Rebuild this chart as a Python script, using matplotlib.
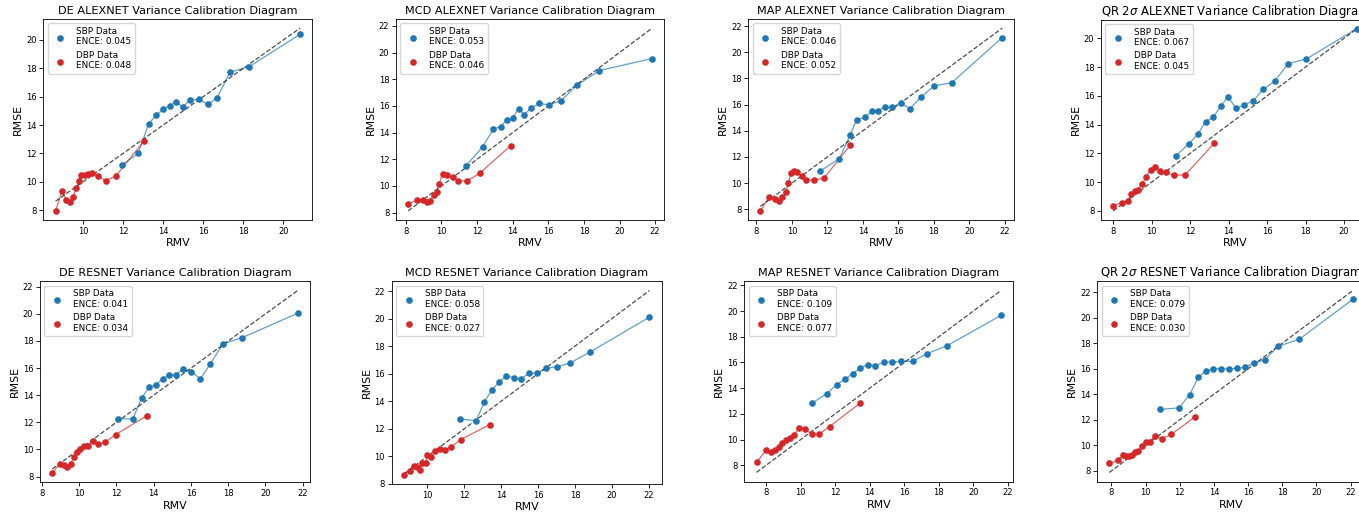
"""
Variance calibration diagrams (RMSE vs RMV) for SBP and DBP,
four uncertainty methods x two backbones.
"""

import matplotlib.pyplot as plt

# ---- DE ALEXNET ----
de_alex_sbp_rmv = [11.95, 12.75, 13.27, 13.63, 14.0, 14.33, 14.63, 14.97, 15.33, 15.77, 16.23, 16.7, 17.33, 18.3, 20.83]
de_alex_sbp_rmse = [11.2, 12.0, 14.07, 14.68, 15.1, 15.34, 15.65, 15.27, 15.74, 15.81, 15.46, 15.93, 17.72, 18.12, 20.4]
de_alex_dbp_rmv = [8.63, 8.95, 9.17, 9.37, 9.5, 9.67, 9.8, 9.92, 10.08, 10.25, 10.47, 10.75, 11.13, 11.63, 13.03]
de_alex_dbp_rmse = [7.95, 9.32, 8.71, 8.54, 8.96, 9.55, 10.09, 10.47, 10.47, 10.54, 10.59, 10.4, 10.07, 10.4, 12.85]

# ---- MCD ALEXNET ----
mcd_alex_sbp_rmv = [11.37, 12.31, 12.91, 13.32, 13.66, 14.0, 14.33, 14.65, 15.05, 15.5, 16.02, 16.71, 17.6, 18.87, 21.83]
mcd_alex_sbp_rmse = [11.5, 12.93, 14.25, 14.45, 14.95, 15.08, 15.8, 15.35, 15.85, 16.18, 16.08, 16.38, 17.55, 18.65, 19.55]
mcd_alex_dbp_rmv = [8.13, 8.64, 8.94, 9.2, 9.35, 9.56, 9.72, 9.87, 10.06, 10.32, 10.62, 10.94, 11.45, 12.14, 13.9]
mcd_alex_dbp_rmse = [8.63, 8.95, 8.95, 8.78, 8.9, 9.33, 9.55, 10.15, 10.93, 10.8, 10.65, 10.38, 10.38, 10.95, 13.03]

# ---- MAP ALEXNET ----
map_alex_sbp_rmv = [11.58, 12.67, 13.28, 13.64, 14.12, 14.5, 14.87, 15.22, 15.65, 16.12, 16.66, 17.26, 18.01, 19.01, 21.85]
map_alex_sbp_rmse = [10.91, 11.86, 13.67, 14.85, 15.03, 15.51, 15.51, 15.85, 15.79, 16.13, 15.69, 16.56, 17.43, 17.68, 21.13]
map_alex_dbp_rmv = [8.22, 8.71, 9.03, 9.27, 9.46, 9.64, 9.79, 9.94, 10.11, 10.28, 10.54, 10.8, 11.23, 11.81, 13.28]
map_alex_dbp_rmse = [7.87, 8.92, 8.77, 8.64, 8.92, 9.28, 9.97, 10.76, 10.89, 10.86, 10.5, 10.24, 10.22, 10.38, 12.88]

# ---- QR 2sigma ALEXNET ----
qr_alex_sbp_rmv = [11.24, 11.94, 12.4, 12.8, 13.2, 13.58, 13.96, 14.38, 14.81, 15.28, 15.8, 16.39, 17.1, 18.04, 20.66]
qr_alex_sbp_rmse = [11.81, 12.67, 13.34, 14.2, 14.5, 15.27, 15.92, 15.15, 15.34, 15.67, 16.46, 17.01, 18.24, 18.56, 20.67]
qr_alex_dbp_rmv = [8.0, 8.47, 8.75, 8.95, 9.13, 9.3, 9.51, 9.72, 9.94, 10.17, 10.44, 10.77, 11.17, 11.75, 13.24]
qr_alex_dbp_rmse = [8.37, 8.56, 8.72, 9.16, 9.37, 9.46, 9.86, 10.39, 10.86, 11.04, 10.77, 10.67, 10.46, 10.51, 12.69]

# ---- DE RESNET ----
de_res_sbp_rmv = [12.1, 12.88, 13.36, 13.76, 14.12, 14.48, 14.84, 15.2, 15.58, 16.01, 16.51, 17.02, 17.72, 18.76, 21.73]
de_res_sbp_rmse = [12.27, 12.25, 13.8, 14.59, 14.74, 15.23, 15.46, 15.51, 15.93, 15.73, 15.21, 16.27, 17.8, 18.25, 20.05]
de_res_dbp_rmv = [8.56, 8.95, 9.17, 9.37, 9.55, 9.71, 9.89, 10.07, 10.25, 10.48, 10.72, 11.0, 11.38, 11.96, 13.63]
de_res_dbp_rmse = [8.25, 8.94, 8.86, 8.74, 8.94, 9.41, 9.8, 10.05, 10.22, 10.27, 10.64, 10.42, 10.52, 11.09, 12.49]

# ---- MCD RESNET ----
mcd_res_sbp_rmv = [11.76, 12.64, 13.09, 13.51, 13.89, 14.27, 14.67, 15.05, 15.51, 15.95, 16.45, 17.04, 17.73, 18.82, 22.04]
mcd_res_sbp_rmse = [12.72, 12.58, 13.95, 14.84, 15.4, 15.82, 15.72, 15.6, 16.02, 16.05, 16.39, 16.51, 16.78, 17.57, 20.11]
mcd_res_dbp_rmv = [8.73, 9.05, 9.27, 9.42, 9.58, 9.73, 9.91, 10.0, 10.22, 10.42, 10.69, 10.93, 11.29, 11.8, 13.4]
mcd_res_dbp_rmse = [8.66, 8.96, 9.28, 9.21, 8.98, 9.48, 9.53, 10.07, 9.97, 10.41, 10.53, 10.46, 10.68, 11.22, 12.31]

# ---- MAP RESNET ----
map_res_sbp_rmv = [10.68, 11.51, 12.08, 12.56, 13.01, 13.42, 13.88, 14.33, 14.8, 15.28, 15.83, 16.5, 17.32, 18.49, 21.61]
map_res_sbp_rmse = [12.85, 13.57, 14.27, 14.69, 15.13, 15.54, 15.83, 15.73, 16.04, 16.04, 16.09, 16.09, 16.69, 17.31, 19.67]
map_res_dbp_rmv = [7.44, 8.0, 8.27, 8.52, 8.74, 8.93, 9.17, 9.4, 9.63, 9.9, 10.25, 10.64, 11.07, 11.67, 13.46]
map_res_dbp_rmse = [8.23, 9.17, 8.99, 9.17, 9.45, 9.76, 9.94, 10.1, 10.36, 10.9, 10.83, 10.41, 10.41, 11.01, 12.85]

# ---- QR 2sigma RESNET ----
qr_res_sbp_rmv = [10.85, 11.96, 12.58, 13.09, 13.54, 13.97, 14.41, 14.86, 15.33, 15.8, 16.36, 16.97, 17.75, 18.98, 22.14]
qr_res_sbp_rmse = [12.81, 12.94, 13.98, 15.36, 15.81, 16.01, 16.01, 15.99, 16.04, 16.1, 16.46, 16.69, 17.76, 18.3, 21.45]
qr_res_dbp_rmv = [7.88, 8.41, 8.66, 8.84, 9.03, 9.23, 9.38, 9.58, 9.81, 10.01, 10.24, 10.53, 10.94, 11.51, 12.87]
qr_res_dbp_rmse = [8.6, 8.83, 9.22, 9.14, 9.17, 9.27, 9.5, 9.55, 9.92, 10.26, 10.29, 10.73, 10.52, 10.86, 12.22]

titles = [
    "DE ALEXNET Variance Calibration Diagram",
    "MCD ALEXNET Variance Calibration Diagram",
    "MAP ALEXNET Variance Calibration Diagram",
    r"QR 2$\sigma$ ALEXNET Variance Calibration Diagram",
    "DE RESNET Variance Calibration Diagram",
    "MCD RESNET Variance Calibration Diagram",
    "MAP RESNET Variance Calibration Diagram",
    r"QR 2$\sigma$ RESNET Variance Calibration Diagram",
]
sbp_ence = [0.045, 0.053, 0.046, 0.067, 0.041, 0.058, 0.109, 0.079]
dbp_ence = [0.048, 0.046, 0.052, 0.045, 0.034, 0.027, 0.077, 0.030]

panels = [
    (de_alex_sbp_rmv, de_alex_sbp_rmse, de_alex_dbp_rmv, de_alex_dbp_rmse),
    (mcd_alex_sbp_rmv, mcd_alex_sbp_rmse, mcd_alex_dbp_rmv, mcd_alex_dbp_rmse),
    (map_alex_sbp_rmv, map_alex_sbp_rmse, map_alex_dbp_rmv, map_alex_dbp_rmse),
    (qr_alex_sbp_rmv, qr_alex_sbp_rmse, qr_alex_dbp_rmv, qr_alex_dbp_rmse),
    (de_res_sbp_rmv, de_res_sbp_rmse, de_res_dbp_rmv, de_res_dbp_rmse),
    (mcd_res_sbp_rmv, mcd_res_sbp_rmse, mcd_res_dbp_rmv, mcd_res_dbp_rmse),
    (map_res_sbp_rmv, map_res_sbp_rmse, map_res_dbp_rmv, map_res_dbp_rmse),
    (qr_res_sbp_rmv, qr_res_sbp_rmse, qr_res_dbp_rmv, qr_res_dbp_rmse),
]

# axes boxes in pixels: left, top, right, bottom (last column runs off the edge)
W, H = 1359, 513
boxes = [
    (43.3, 19, 312.3, 220),
    (396, 19, 664.3, 220),
    (748.3, 19, 1014.3, 220),
    (1101, 19.5, 1369, 220),
    (40, 281.3, 310, 482.3),
    (391.7, 281.3, 661.7, 484),
    (744.3, 281.3, 1013.3, 481.5),
    (1097.2, 281.3, 1365.2, 481.5),
]

plt.rcParams["axes.linewidth"] = 0.6
plt.rcParams["xtick.major.size"] = 2.8
plt.rcParams["ytick.major.size"] = 2.8
plt.rcParams["xtick.major.width"] = 0.6
plt.rcParams["ytick.major.width"] = 0.6
plt.rcParams["xtick.major.pad"] = 2
plt.rcParams["ytick.major.pad"] = 2

fig = plt.figure(figsize=(W / 100, H / 100), dpi=100)

for idx, (sbp_x, sbp_y, dbp_x, dbp_y) in enumerate(panels):
    left, top, right, bottom = boxes[idx]
    ax = fig.add_axes([left / W, 1 - bottom / H, (right - left) / W, (bottom - top) / H])

    ax.scatter(sbp_x, sbp_y, color="tab:blue", s=14, zorder=3,
               label=f"SBP Data\nENCE: {sbp_ence[idx]:.3f}")
    ax.plot(sbp_x, sbp_y, color="tab:blue", alpha=0.7, linewidth=0.9)
    ax.scatter(dbp_x, dbp_y, color="tab:red", s=14, zorder=3,
               label=f"DBP Data\nENCE: {dbp_ence[idx]:.3f}")
    ax.plot(dbp_x, dbp_y, color="tab:red", alpha=0.7, linewidth=0.9)

    lo = min(min(sbp_x), min(dbp_x))
    hi = max(max(sbp_x), max(dbp_x))
    ax.plot([lo, hi], [lo, hi], color="black", linestyle="--", alpha=0.7, linewidth=0.9)

    title_size = 8.35 if titles[idx].startswith("QR") else 8.1
    ax.set_title(titles[idx], fontsize=title_size, pad=3.5)
    ax.set_xlabel("RMV", fontsize=7.9, labelpad=2)
    ax.set_ylabel("RMSE", fontsize=7.9, labelpad=2)
    ax.tick_params(labelsize=6.0)
    ax.legend(loc="upper left", fontsize=6.4)

fig.savefig("out.png", dpi=100)
plt.close(fig)
